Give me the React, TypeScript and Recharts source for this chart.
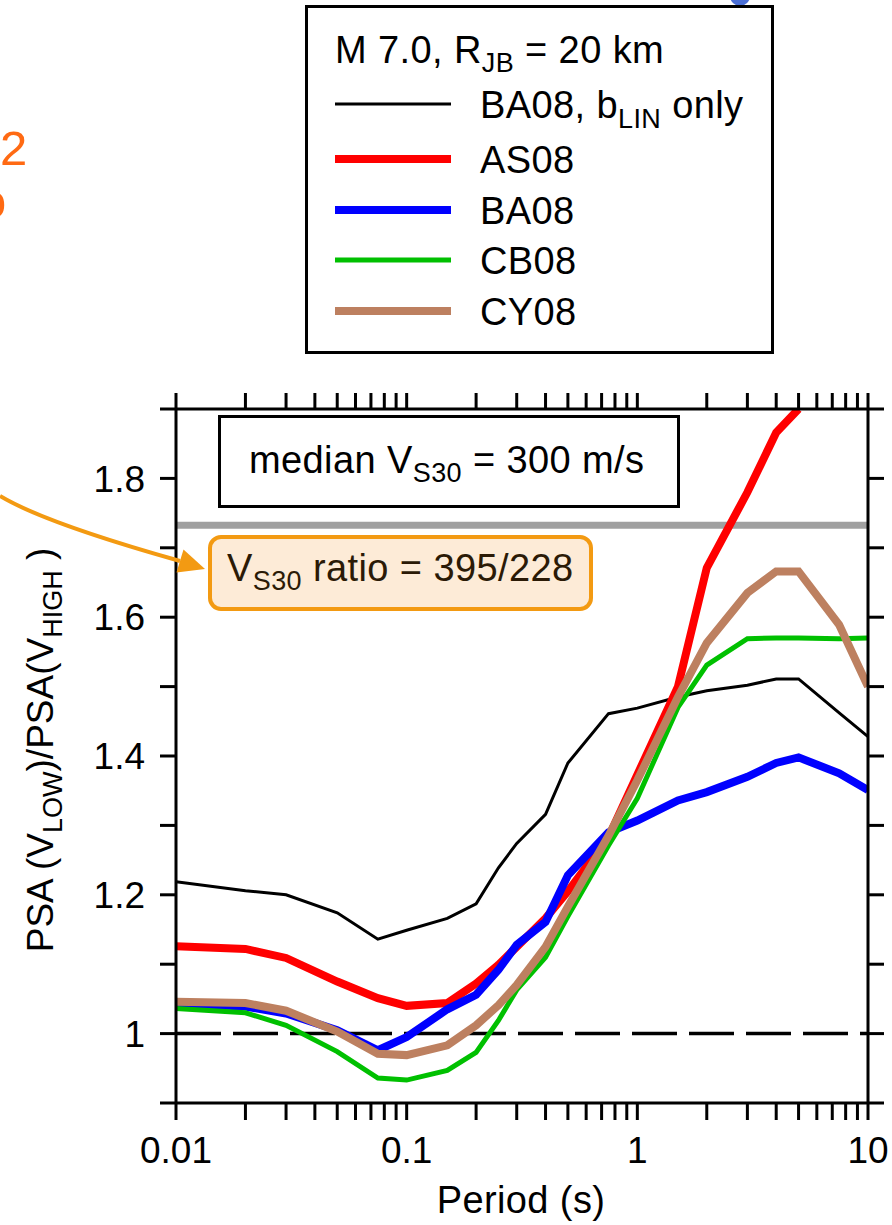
import React from "react"
import { LineChart, Line, XAxis, YAxis, ReferenceLine } from "recharts"

// spectral periods (s)
const periods = [0.01, 0.02, 0.03, 0.05, 0.075, 0.1, 0.15, 0.2, 0.25, 0.3, 0.4, 0.5, 0.75, 1, 1.5, 2, 3, 4, 5, 7.5, 10]

// PSA(V_LOW)/PSA(V_HIGH) per model
const ba08LinOnly = [1.219, 1.206, 1.2, 1.174, 1.136, 1.149, 1.166, 1.187, 1.239, 1.274, 1.316, 1.39, 1.461, 1.469, 1.485, 1.494, 1.502, 1.511, 1.511, 1.462, 1.428]
const as08 = [1.126, 1.122, 1.109, 1.075, 1.051, 1.04, 1.044, 1.072, 1.099, 1.125, 1.166, 1.205, 1.283, 1.373, 1.5, 1.671, 1.78, 1.866, 1.9, null, null]
const ba08 = [1.043, 1.039, 1.029, 1.005, 0.976, 0.995, 1.035, 1.056, 1.092, 1.128, 1.161, 1.228, 1.29, 1.307, 1.336, 1.348, 1.37, 1.39, 1.398, 1.375, 1.351]
const cb08 = [1.036, 1.03, 1.012, 0.974, 0.936, 0.933, 0.947, 0.973, 1.019, 1.063, 1.11, 1.169, 1.271, 1.339, 1.47, 1.531, 1.569, 1.57, 1.57, 1.569, 1.57]
const cy08 = [1.046, 1.044, 1.033, 1.003, 0.971, 0.969, 0.983, 1.012, 1.041, 1.07, 1.125, 1.183, 1.285, 1.365, 1.485, 1.563, 1.635, 1.666, 1.666, 1.589, 1.5]

// reference levels
const vs30Ratio = 395 / 228
const unity = 1

// axis ticks
const xTicks = [
  0.01, 0.02, 0.03, 0.04, 0.05, 0.06, 0.07, 0.08, 0.09,
  0.1, 0.2, 0.3, 0.4, 0.5, 0.6, 0.7, 0.8, 0.9,
  1, 2, 3, 4, 5, 6, 7, 8, 9, 10,
]
const xTickLabels: Record<string, string> = { "0.01": "0.01", "0.1": "0.1", "1": "1", "10": "10" }
const yTicks = [0.9, 1.0, 1.1, 1.2, 1.3, 1.4, 1.5, 1.6, 1.7, 1.8, 1.9]
const yTickLabels: Record<string, string> = { "1": "1", "1.2": "1.2", "1.4": "1.4", "1.6": "1.6", "1.8": "1.8" }

const rows = periods.map((p, i) => ({
  period: p,
  bLin: ba08LinOnly[i],
  as08: as08[i],
  ba08: ba08[i],
  cb08: cb08[i],
  cy08: cy08[i],
}))

const FONT = "'Liberation Sans', Arial, Helvetica, sans-serif"
const FS = 38
const SUB = 27
const LS = 0.4

const series = [
  { key: "bLin", color: "#000000", width: 3, label: "BA08, b", sub: "LIN", rest: " only" },
  { key: "as08", color: "#ff0000", width: 8, label: "AS08" },
  { key: "ba08", color: "#0000ff", width: 8, label: "BA08" },
  { key: "cb08", color: "#00c000", width: 5, label: "CB08" },
  { key: "cy08", color: "#bd8060", width: 8, label: "CY08" },
]

const axisStroke = { stroke: "#000", strokeWidth: 3 }
const tickStyle = { fill: "#000", fontSize: 37, fontFamily: FONT }
const blank = () => ""

function Overlay() {
  const legendY = [104, 159, 210, 260, 311]
  return (
    <svg
      width={892}
      height={1225}
      style={{ position: "absolute", left: 0, top: 0, pointerEvents: "none" }}
      fontFamily={FONT}
    >
      <circle cx={740} cy={-4} r={10} fill="#4a6fd6" />
      <text x={0} y={165} fontSize={49} fill="#ff6a13">2</text>
      <text x={-21} y={218} fontSize={49} fill="#ff6a13">o</text>

      {/* legend */}
      <rect x={306.5} y={6.5} width={466} height={346} fill="#fff" stroke="#000" strokeWidth={3} />
      <text x={335} y={63} fontSize={FS} letterSpacing={LS} fill="#000">
        M 7.0, R<tspan fontSize={SUB} dy={9}>JB</tspan>
        <tspan fontSize={FS} dy={-9}> = 20 km</tspan>
      </text>
      {series.map((s, i) => (
        <g key={s.key}>
          <line x1={335} x2={451} y1={legendY[i]} y2={legendY[i]} stroke={s.color} strokeWidth={s.width} />
          <text x={480} y={legendY[i] + 14} fontSize={FS} letterSpacing={LS} fill="#000">
            {s.label}
            {s.sub && (
              <>
                <tspan fontSize={SUB} dy={10}>{s.sub}</tspan>
                <tspan fontSize={FS} dy={-10}>{s.rest}</tspan>
              </>
            )}
          </text>
        </g>
      ))}

      {/* annotation boxes */}
      <rect x={219.5} y={416.5} width={459} height={90} fill="#fff" stroke="#000" strokeWidth={3} />
      <text x={249} y={473} fontSize={FS} letterSpacing={LS} fill="#000">
        median V<tspan fontSize={SUB} dy={9}>S30</tspan>
        <tspan fontSize={FS} dy={-9}> = 300 m/s</tspan>
      </text>
      <rect x={210} y={537} width={381} height={72} rx={11} fill="#fdebd7" stroke="#f39a12" strokeWidth={4} />
      <text x={227} y={581} fontSize={FS} letterSpacing={LS} fill="#2b1a06">
        V<tspan fontSize={SUB} dy={9}>S30</tspan>
        <tspan fontSize={FS} dy={-9}> ratio = 395/228</tspan>
      </text>

      {/* arrow */}
      <path d="M 0 496 Q 45 523 180 561" fill="none" stroke="#f39a12" strokeWidth={4} />
      <polygon points="183.5,549.5 205,569 176.5,572.5" fill="#f39a12" />

      {/* axis titles */}
      <text x={521} y={1213} fontSize={FS} letterSpacing={LS} textAnchor="middle" fill="#000">Period (s)</text>
      <text transform="translate(53,750) rotate(-90)" fontSize={37} textAnchor="middle" fill="#000">
        PSA (V<tspan fontSize={SUB} dy={9}>LOW</tspan>
        <tspan fontSize={37} dy={-9}>)/PSA(V</tspan>
        <tspan fontSize={SUB} dy={9}>HIGH</tspan>
        <tspan fontSize={37} dy={-9}> )</tspan>
      </text>
    </svg>
  )
}

export default function App() {
  return (
    <div style={{ position: "absolute", left: 0, top: 0, width: 892, height: 1225, background: "#fff" }}>
      <LineChart
        width={892}
        height={1225}
        data={rows}
        margin={{ top: 379, right: 0, bottom: 0, left: 76 }}
      >
        <XAxis
          dataKey="period"
          type="number"
          scale="log"
          domain={[0.01, 10]}
          allowDataOverflow
          ticks={xTicks}
          interval={0}
          height={122}
          tickSize={17}
          tickMargin={17}
          stroke="#000"
          strokeWidth={3}
          axisLine={axisStroke}
          tickLine={axisStroke}
          tick={tickStyle}
          tickFormatter={(v: number) => xTickLabels[String(v)] ?? ""}
        />
        <XAxis
          xAxisId="top"
          orientation="top"
          dataKey="period"
          type="number"
          scale="log"
          domain={[0.01, 10]}
          allowDataOverflow
          ticks={xTicks}
          interval={0}
          height={30}
          tickSize={16}
          stroke="#000"
          strokeWidth={3}
          axisLine={axisStroke}
          tickLine={axisStroke}
          tick={tickStyle}
          tickFormatter={blank}
        />
        <YAxis
          type="number"
          domain={[0.9, 1.9]}
          allowDataOverflow
          ticks={yTicks}
          interval={0}
          width={100}
          tickSize={16}
          tickMargin={15}
          stroke="#000"
          strokeWidth={3}
          axisLine={axisStroke}
          tickLine={axisStroke}
          tick={tickStyle}
          tickFormatter={(v: number) => yTickLabels[String(Math.round(v * 10) / 10)] ?? ""}
        />
        <YAxis
          yAxisId="right"
          orientation="right"
          type="number"
          domain={[0.9, 1.9]}
          allowDataOverflow
          ticks={yTicks}
          interval={0}
          width={24}
          tickSize={16}
          stroke="#000"
          strokeWidth={3}
          axisLine={axisStroke}
          tickLine={axisStroke}
          tick={tickStyle}
          tickFormatter={blank}
        />
        <ReferenceLine y={vs30Ratio} stroke="#a0a0a0" strokeWidth={7} />
        <ReferenceLine y={unity} stroke="#000" strokeWidth={3.5} strokeDasharray="45 12" />
        {series.map((s) => (
          <Line
            key={s.key}
            dataKey={s.key}
            type="linear"
            stroke={s.color}
            strokeWidth={s.width}
            dot={false}
            activeDot={false}
            isAnimationActive={false}
          />
        ))}
      </LineChart>
      <Overlay />
    </div>
  )
}
